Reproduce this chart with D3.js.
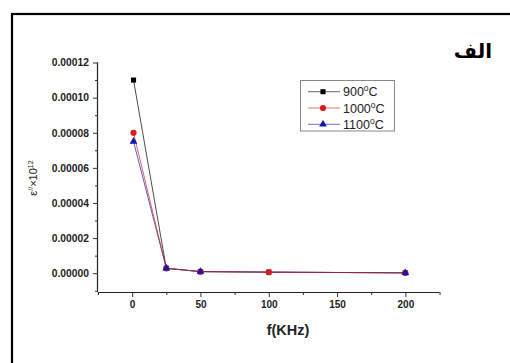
<!DOCTYPE html>
<html>
<head>
	<meta charset="utf-8">
	<script src="https://cdnjs.cloudflare.com/ajax/libs/d3/7.8.5/d3.min.js"></script>
	<style>
		body { margin: 0; background: #fff; }
	</style>
</head>
<body>
	<svg width="510" height="363"></svg>
	<script>
		// data
		let freqs = [1, 25, 50, 100, 200];
		let s900 = [0.00011, 0.0000028, 0.0000009, 0.0000006, 0.0000002];
		let s1000 = [0.00008, 0.0000028, 0.0000009, 0.0000006, 0.0000002];
		let s1100 = [0.000075, 0.0000028, 0.0000009, null, 0.0000002];
		let seriesNames = ["900", "1000", "1100"];
		let xTicks = [0, 50, 100, 150, 200];
		let yTicks = [0, 0.00002, 0.00004, 0.00006, 0.00008, 0.0001, 0.00012];

		let svg = d3.select("svg");

		// outer frame
		svg.append("rect")
			.attr("x", 12).attr("y", 14)
			.attr("width", 520).attr("height", 380)
			.attr("fill", "none")
			.attr("stroke", "#000")
			.attr("stroke-width", 2.2);

		let pLeft = 98, pRight = 439.5, pTop = 62.5, pBottom = 292;

		let x = d3.scaleLinear().domain([-25, 225]).range([pLeft, pRight]);
		let y = d3.scaleLinear().domain([-0.0000107, 0.00012]).range([pBottom, pTop]);

		let series = [
			{name: seriesNames[0], values: s900, color: "#000000", shape: d3.symbolSquare, size: 26},
			{name: seriesNames[1], values: s1000, color: "#d81c1c", shape: d3.symbolCircle, size: 30},
			{name: seriesNames[2], values: s1100, color: "#1515b0", shape: d3.symbolTriangle, size: 26}
		];
		series.forEach(function(s) {
			s.points = freqs.map(function(f, i) { return {x: f, y: s.values[i]}; })
				.filter(function(p) { return p.y !== null; });
		});

		// axes
		let xAxis = svg.append("g")
			.attr("transform", "translate(0," + pBottom + ")")
			.call(d3.axisBottom(x).tickValues(xTicks).tickSize(5).tickPadding(4).tickFormat(d3.format("d")));
		svg.append("g")
			.attr("transform", "translate(0," + pBottom + ")")
			.call(d3.axisBottom(x).tickValues([-25, 25, 75, 125, 175, 225]).tickSize(3).tickFormat(""))
			.select(".domain").remove();
		xAxis.selectAll(".tick text").attr("font-size", 10);

		let yAxis = svg.append("g")
			.attr("transform", "translate(" + pLeft + ",0)")
			.call(d3.axisLeft(y).tickValues(yTicks).tickSize(5).tickPadding(4).tickFormat(d3.format(".5f")));
		svg.append("g")
			.attr("transform", "translate(" + pLeft + ",0)")
			.call(d3.axisLeft(y).tickValues([-0.00001, 0.00001, 0.00003, 0.00005, 0.00007, 0.00009, 0.00011]).tickSize(3).tickFormat(""))
			.select(".domain").remove();
		yAxis.selectAll(".tick text").attr("font-size", 10.3);

		xAxis.select(".domain").attr("d", "M" + pLeft + ",0.5H" + pRight);
		yAxis.select(".domain").attr("d", "M-0.5," + pTop + "V" + pBottom);
		svg.selectAll(".domain").attr("stroke", "#222").attr("stroke-width", 1.2);
		svg.selectAll(".tick line").attr("stroke", "#333");
		svg.selectAll(".tick text")
			.attr("font-family", "Arial, 'Liberation Sans', sans-serif")
			.attr("font-weight", "bold")
			.attr("fill", "#222");

		// lines
		let line = d3.line().x(function(d) { return x(d.x); }).y(function(d) { return y(d.y); });
		let order = [series[0], series[2], series[1]];
		order.forEach(function(s) {
			svg.append("path")
				.datum(s.points)
				.attr("d", line)
				.attr("fill", "none")
				.attr("stroke", s.color)
				.attr("stroke-opacity", 0.7)
				.attr("stroke-width", 1);
		});

		// markers
		series.forEach(function(s) {
			svg.append("g").selectAll("path")
				.data(s.points)
				.enter()
				.append("path")
				.attr("transform", function(d) { return "translate(" + x(d.x) + "," + y(d.y) + ")"; })
				.attr("d", d3.symbol().type(s.shape).size(s.size))
				.attr("fill", s.color);
		});

		// axis titles
		svg.append("text")
			.attr("x", 288).attr("y", 335)
			.attr("text-anchor", "middle")
			.attr("font-family", "Arial, 'Liberation Sans', sans-serif")
			.attr("font-weight", "bold")
			.attr("font-size", 14.5)
			.attr("fill", "#222")
			.text("f(KHz)");

		let yTitle = svg.append("text")
			.attr("transform", "translate(37,178) rotate(-90)")
			.attr("text-anchor", "middle")
			.attr("font-family", "Arial, 'Liberation Sans', sans-serif")
			.attr("font-size", 11)
			.attr("fill", "#222");
		yTitle.append("tspan").text("\u03b5");
		yTitle.append("tspan").attr("dy", -4).attr("font-size", 7).text("//");
		yTitle.append("tspan").attr("dy", 4).text("\u00d710");
		yTitle.append("tspan").attr("dy", -4).attr("font-size", 7).text("12");

		// legend
		let legend = svg.append("g");
		legend.append("rect")
			.attr("x", 300.5).attr("y", 80.5)
			.attr("width", 94).attr("height", 50.5)
			.attr("fill", "#fff")
			.attr("stroke", "#888")
			.attr("stroke-width", 1);
		let items = legend.selectAll("g.item")
			.data(series)
			.enter()
			.append("g")
			.attr("class", "item")
			.attr("transform", function(d, i) { return "translate(0," + (91.7 + i * 16.3) + ")"; });
		items.append("line")
			.attr("x1", 308).attr("x2", 340)
			.attr("stroke", function(d) { return d.color; })
			.attr("stroke-opacity", 0.6)
			.attr("stroke-width", 1);
		items.append("path")
			.attr("transform", "translate(323,0)")
			.attr("d", function(d) { return d3.symbol().type(d.shape).size(d.size)(); })
			.attr("fill", function(d) { return d.color; });
		let lt = items.append("text")
			.attr("x", 343).attr("y", 4.5)
			.attr("font-family", "Arial, 'Liberation Sans', sans-serif")
			.attr("font-size", 12.5)
			.attr("fill", "#222");
		lt.append("tspan").text(function(d) { return d.name; });
		lt.append("tspan").attr("dy", -5).attr("font-size", 8.5).text("o");
		lt.append("tspan").attr("dy", 5).text("C");

		// panel label
		svg.append("text")
			.attr("x", 492).attr("y", 58)
			.attr("text-anchor", "end")
			.attr("font-family", "'DejaVu Sans', 'Noto Sans', sans-serif")
			.attr("font-weight", "bold")
			.attr("font-size", 20)
			.attr("fill", "#000")
			.text("الف");
	</script>
</body>
</html>
